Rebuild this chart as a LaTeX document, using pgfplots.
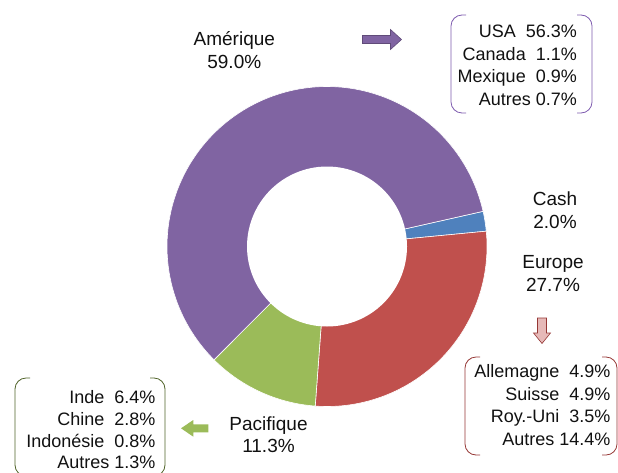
\documentclass[border=0pt]{standalone}
\usepackage{pgfplots}
\pgfplotsset{compat=1.18}
\usepackage{fontspec}
\setmainfont{Liberation Sans}
\definecolor{ame}{HTML}{8064A2}
\definecolor{cashc}{HTML}{4F81BD}
\definecolor{eur}{HTML}{C0504D}
\definecolor{pac}{HTML}{9BBB59}
\definecolor{ameline}{HTML}{7D5AAE}
\definecolor{eurline}{HTML}{953735}
\definecolor{pacline}{HTML}{4F6228}
\definecolor{pinkfill}{HTML}{E6B9B8}
\definecolor{txt}{HTML}{111111}
\newcommand\lab{\fontsize{19bp}{22bp}\selectfont}
\newcommand\boxf{\fontsize{18bp}{22bp}\selectfont}
\begin{document}
\begin{tikzpicture}
% values (percent)
\def\vCash{2.0}\def\vEur{27.7}\def\vPac{11.3}\def\vAme{59.0}
\pgfmathsetmacro\cx{327}\pgfmathsetmacro\cy{246.5}
\pgfmathsetmacro\R{160}\pgfmathsetmacro\r{80}
\pgfmathsetmacro\aA{12.7}
\pgfmathsetmacro\aB{\aA-3.6*\vCash}
\pgfmathsetmacro\aC{\aB-3.6*\vEur}
\pgfmathsetmacro\aD{\aC-3.6*\vPac}
\pgfmathsetmacro\aE{\aD-3.6*\vAme}
\begin{axis}[at={(0,0)}, anchor=south west, scale only axis,
  width=618bp, height=473bp, xmin=0, xmax=618, ymin=0, ymax=473,
  y dir=reverse, hide axis, clip=false]
\addplot[draw=white, line width=0.6pt, fill=cashc, domain=\aB:\aA, samples=15, variable=\t]
  ({\cx+\R*cos(\t)},{\cy-\R*sin(\t)}) -- (axis cs:\cx,\cy) -- cycle;
\addplot[draw=white, line width=0.6pt, fill=eur, domain=\aC:\aB, samples=80, variable=\t]
  ({\cx+\R*cos(\t)},{\cy-\R*sin(\t)}) -- (axis cs:\cx,\cy) -- cycle;
\addplot[draw=white, line width=0.6pt, fill=pac, domain=\aD:\aC, samples=40, variable=\t]
  ({\cx+\R*cos(\t)},{\cy-\R*sin(\t)}) -- (axis cs:\cx,\cy) -- cycle;
\addplot[draw=white, line width=0.6pt, fill=ame, domain=\aE:\aD, samples=150, variable=\t]
  ({\cx+\R*cos(\t)},{\cy-\R*sin(\t)}) -- (axis cs:\cx,\cy) -- cycle;
\addplot[draw=none, fill=white, domain=0:360, samples=121, variable=\t]
  ({\cx+\r*cos(\t)},{\cy-\r*sin(\t)}) -- cycle;

% category labels
\begin{scope}[every node/.style={inner sep=0pt, text=txt}]
\node[anchor=base, font=\lab] at (axis cs:234.3,45) {Amérique};
\node[anchor=base, font=\lab] at (axis cs:234.3,68.3) {59.0\%};
\node[anchor=base, font=\lab] at (axis cs:555,205) {Cash};
\node[anchor=base, font=\lab] at (axis cs:555,228.3) {2.0\%};
\node[anchor=base, font=\lab] at (axis cs:553,268.3) {Europe};
\node[anchor=base, font=\lab] at (axis cs:553,291.7) {27.7\%};
\node[anchor=base, font=\lab] at (axis cs:268.5,430) {Pacifique};
\node[anchor=base, font=\lab] at (axis cs:268.5,452.7) {11.3\%};
% detail boxes
\node[anchor=base east, font=\boxf] at (axis cs:577,37.7) {USA\ \ 56.3\%};
\node[anchor=base east, font=\boxf] at (axis cs:577,60) {Canada\ \ 1.1\%};
\node[anchor=base east, font=\boxf] at (axis cs:577,82.3) {Mexique\ \ 0.9\%};
\node[anchor=base east, font=\boxf] at (axis cs:577,105) {Autres 0.7\%};
\node[anchor=base east, font=\boxf] at (axis cs:610.7,377.3) {Allemagne\ \ 4.9\%};
\node[anchor=base east, font=\boxf] at (axis cs:610.7,400) {Suisse\ \ 4.9\%};
\node[anchor=base east, font=\boxf] at (axis cs:610.7,422.3) {Roy.-Uni\ \ 3.5\%};
\node[anchor=base east, font=\boxf] at (axis cs:610.7,445) {Autres 14.4\%};
\node[anchor=base east, font=\boxf] at (axis cs:155.7,403) {Inde\ \ 6.4\%};
\node[anchor=base east, font=\boxf] at (axis cs:155.7,425) {Chine\ \ 2.8\%};
\node[anchor=base east, font=\boxf] at (axis cs:155.7,447) {Indonésie\ \ 0.8\%};
\node[anchor=base east, font=\boxf] at (axis cs:155.7,468.5) {Autres 1.3\%};
\end{scope}
% brackets
\draw[ameline, line width=0.8pt, rounded corners=11bp]
  (axis cs:466,15) -- (axis cs:451,15) -- (axis cs:451,113) -- (axis cs:466,113);
\draw[ameline, line width=0.8pt, rounded corners=11bp]
  (axis cs:577,15) -- (axis cs:592,15) -- (axis cs:592,113) -- (axis cs:577,113);
\draw[eurline, line width=0.8pt, rounded corners=11bp]
  (axis cs:480,357) -- (axis cs:465,357) -- (axis cs:465,455) -- (axis cs:480,455);
\draw[eurline, line width=0.8pt, rounded corners=11bp]
  (axis cs:602,357) -- (axis cs:617,357) -- (axis cs:617,455) -- (axis cs:602,455);
\draw[pacline, line width=0.8pt, rounded corners=11bp]
  (axis cs:30,378) -- (axis cs:15,378) -- (axis cs:15,476) -- (axis cs:30,476);
\draw[pacline, line width=0.8pt, rounded corners=11bp]
  (axis cs:150,378) -- (axis cs:165,378) -- (axis cs:165,476) -- (axis cs:150,476);
% arrows
\filldraw[fill=ame, draw=ame!75!black, line width=0.6pt]
  (axis cs:362.5,35.5) -- (axis cs:390.5,35.5) -- (axis cs:390.5,29.5) -- (axis cs:401.5,39.5)
  -- (axis cs:390.5,49.5) -- (axis cs:390.5,43.5) -- (axis cs:362.5,43.5) -- cycle;
\filldraw[fill=pinkfill, draw=eurline, line width=0.6pt]
  (axis cs:537.5,318) -- (axis cs:546.5,318) -- (axis cs:546.5,333) -- (axis cs:550.5,333)
  -- (axis cs:542,343.5) -- (axis cs:533.5,333) -- (axis cs:537.5,333) -- cycle;
\fill[pac]
  (axis cs:181,428.3) -- (axis cs:193.3,420) -- (axis cs:193.3,424.3) -- (axis cs:208.3,424.3)
  -- (axis cs:208.3,432.3) -- (axis cs:193.3,432.3) -- (axis cs:193.3,436.7) -- cycle;
\end{axis}
\pgfresetboundingbox
\path[use as bounding box] (0,0) rectangle (618bp,473bp);
\end{tikzpicture}
\end{document}
